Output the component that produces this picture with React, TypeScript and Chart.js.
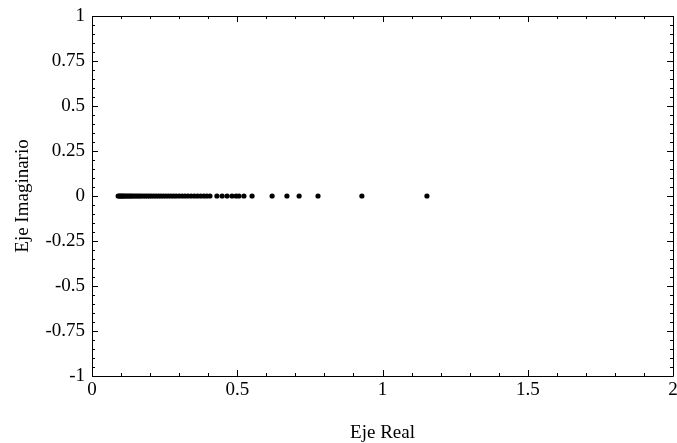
import React, { useEffect, useRef } from "react";
import { Chart, registerables } from "chart.js";

Chart.register(...registerables);

// Real parts of the eigenvalues (imaginary part is 0)
const realParts = [
  0.090, 0.094, 0.098, 0.102, 0.106, 0.110, 0.115, 0.120, 0.125, 0.130,
  0.135, 0.140, 0.146, 0.152, 0.158, 0.164, 0.170, 0.177, 0.184, 0.191,
  0.198, 0.205, 0.213, 0.221, 0.229, 0.237, 0.245, 0.254, 0.263, 0.272,
  0.281, 0.290, 0.300, 0.310, 0.320, 0.330, 0.341, 0.352, 0.363, 0.374,
  0.385, 0.395, 0.406, 0.430, 0.448, 0.465, 0.482, 0.496, 0.506, 0.523,
  0.551, 0.620, 0.671, 0.713, 0.778, 0.929, 1.153,
];
const imagParts = realParts.map(() => 0);

const xMajorTicks = [0, 0.5, 1, 1.5, 2];
const xMinorTicks = [0.1, 0.2, 0.3, 0.4, 0.6, 0.7, 0.8, 0.9, 1.1, 1.2, 1.3, 1.4, 1.6, 1.7, 1.8, 1.9];
const yMajorTicks = [-1, -0.75, -0.5, -0.25, 0, 0.25, 0.5, 0.75, 1];
const yMinorTicks = [
  -0.95, -0.9, -0.85, -0.8, -0.7, -0.65, -0.6, -0.55, -0.45, -0.4, -0.35, -0.3,
  -0.2, -0.15, -0.1, -0.05, 0.05, 0.1, 0.15, 0.2, 0.3, 0.35, 0.4, 0.45,
  0.55, 0.6, 0.65, 0.7, 0.8, 0.85, 0.9, 0.95,
];

const FONT = "'Liberation Serif', 'Times New Roman', serif";
const FS = 19;

const framePlugin = {
  id: "frameTicks",
  afterDraw(chart: any) {
    const { ctx, chartArea: a, scales } = chart;
    const xs = scales.x;
    const ys = scales.y;
    ctx.save();
    ctx.strokeStyle = "#000";
    ctx.lineWidth = 1;
    ctx.beginPath();
    ctx.rect(Math.round(a.left) + 0.5, Math.round(a.top) + 0.5, Math.round(a.right - a.left), Math.round(a.bottom - a.top));
    ctx.stroke();
    const major = 6;
    const minor = 3;
    ctx.beginPath();
    const drawX = (v: number, len: number) => {
      const px = Math.round(xs.getPixelForValue(v)) + 0.5;
      ctx.moveTo(px, a.bottom);
      ctx.lineTo(px, a.bottom - len);
      ctx.moveTo(px, a.top);
      ctx.lineTo(px, a.top + len);
    };
    const drawY = (v: number, len: number) => {
      const py = Math.round(ys.getPixelForValue(v)) + 0.5;
      ctx.moveTo(a.left, py);
      ctx.lineTo(a.left + len, py);
      ctx.moveTo(a.right, py);
      ctx.lineTo(a.right - len, py);
    };
    xMajorTicks.forEach((v) => drawX(v, major));
    xMinorTicks.forEach((v) => drawX(v, minor));
    yMajorTicks.forEach((v) => drawY(v, major));
    yMinorTicks.forEach((v) => drawY(v, minor));
    ctx.stroke();
    ctx.restore();
  },
};

export default function App() {
  const ref = useRef<HTMLCanvasElement | null>(null);
  useEffect(() => {
    if (!ref.current) return;
    const chart = new Chart(ref.current, {
      type: "scatter",
      data: {
        datasets: [
          {
            data: realParts.map((x, i) => ({ x, y: imagParts[i] })),
            backgroundColor: "#000",
            borderWidth: 0,
            pointRadius: 2.6,
          },
        ],
      },
      options: {
        animation: false,
        responsive: false,
        maintainAspectRatio: false,
        layout: { padding: { top: 16, right: 4, left: 0, bottom: 0 } },
        plugins: { legend: { display: false }, tooltip: { enabled: false } },
        scales: {
          x: {
            type: "linear",
            min: 0,
            max: 2,
            afterBuildTicks: (s: any) => {
              s.ticks = xMajorTicks.map((v) => ({ value: v }));
            },
            afterFit: (s: any) => {
              s.height = 67;
              s.paddingLeft = 0;
              s.paddingRight = 0;
            },
            grid: { display: false, drawTicks: false },
            border: { display: false },
            ticks: {
              autoSkip: false,
              maxRotation: 0,
              padding: 3,
              color: "#000",
              font: { family: FONT, size: FS },
              callback: (v: any) => String(v),
            },
            title: {
              display: true,
              text: "Eje Real",
              color: "#000",
              font: { family: FONT, size: FS },
              padding: { top: 0, bottom: -1 },
            },
          },
          y: {
            type: "linear",
            min: -1,
            max: 1,
            afterBuildTicks: (s: any) => {
              s.ticks = yMajorTicks.map((v) => ({ value: v }));
            },
            afterFit: (s: any) => {
              s.width = 92;
              s.paddingTop = 0;
              s.paddingBottom = 0;
            },
            grid: { display: false, drawTicks: false },
            border: { display: false },
            ticks: {
              autoSkip: false,
              padding: 7,
              color: "#000",
              font: { family: FONT, size: FS },
              callback: (v: any) => String(v),
            },
            title: {
              display: true,
              text: "Eje Imaginario",
              color: "#000",
              font: { family: FONT, size: FS },
              padding: { top: 12, bottom: 0 },
            },
          },
        },
      },
      plugins: [framePlugin],
    });
    return () => chart.destroy();
  }, []);
  return (
    <div style={{ position: "fixed", left: 0, top: 0, width: 677, height: 443, background: "#fff" }}>
      <canvas ref={ref} width={677} height={443} style={{ width: 677, height: 443, display: "block" }} />
    </div>
  );
}
